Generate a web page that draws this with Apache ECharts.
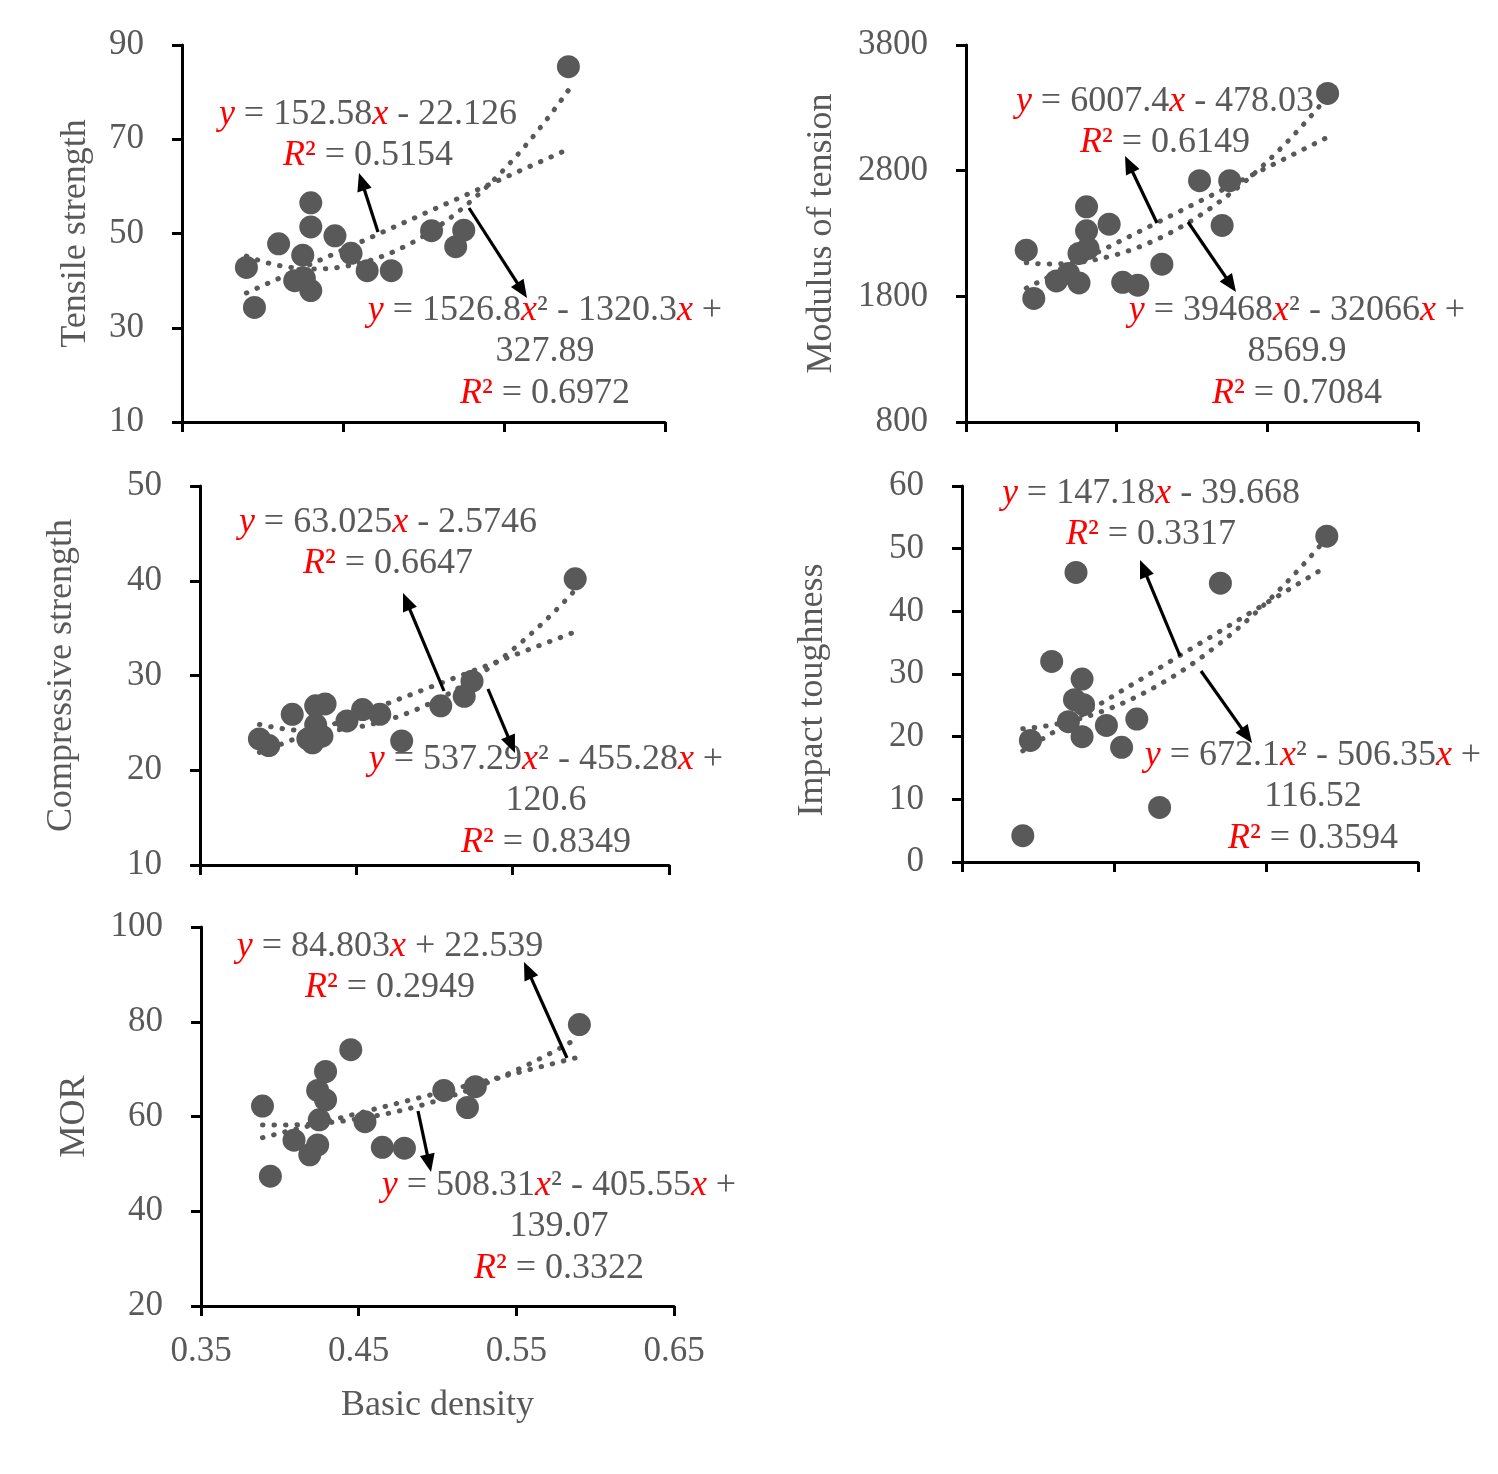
<!DOCTYPE html>
<html><head><meta charset="utf-8">
<script src="https://cdn.jsdelivr.net/npm/echarts@6/dist/echarts.min.js"></script>
<style>html,body{margin:0;padding:0;background:#fff}#c{width:1498px;height:1474px}</style>
</head><body><div id="c"></div>
<script>
// ---------- data ----------
const xTickValues = [0.35, 0.45, 0.55, 0.65];

const tensileDensity = [0.390,0.395,0.410,0.420,0.425,0.426,0.430,0.430,0.430,0.445,0.455,0.465,0.480,0.505,0.520,0.525,0.590];
const tensileValues  = [42.8,34.3,47.8,40.0,45.4,40.5,56.5,51.4,37.9,49.5,45.8,42.1,42.1,50.6,47.2,50.7,85.4];

const modulusDensity = [0.390,0.395,0.410,0.418,0.425,0.425,0.431,0.430,0.430,0.445,0.454,0.464,0.480,0.505,0.520,0.525,0.590];
const modulusValues  = [2167,1783,1923,1982,1907,2141,2181,2321,2512,2374,1912,1889,2056,2720,2364,2720,3415];

const compDensity = [0.388,0.394,0.409,0.419,0.422,0.424,0.424,0.428,0.430,0.444,0.454,0.465,0.479,0.504,0.519,0.524,0.590];
const compValues  = [23.3,22.6,25.9,23.3,22.9,24.8,26.8,23.6,27.0,25.2,26.4,25.9,23.1,26.8,27.8,29.4,40.2];

const impactDensity = [0.390,0.395,0.409,0.420,0.424,0.425,0.429,0.430,0.429,0.445,0.455,0.465,0.480,0.520,0.590];
const impactValues  = [4.2,19.4,32.0,22.4,25.9,46.2,29.2,25.1,20.0,21.8,18.3,22.8,8.7,44.5,52.0];

const morDensity = [0.389,0.394,0.409,0.419,0.424,0.424,0.425,0.429,0.429,0.445,0.454,0.465,0.479,0.504,0.519,0.524,0.590];
const morValues  = [62.2,47.4,55.0,51.9,54.0,65.5,59.3,63.5,69.5,74.1,58.9,53.5,53.3,65.5,61.9,66.3,79.4];

// trendline coefficients as printed on the chart
const tensileLinear = [152.58, -22.126];   const tensileQuad = [1526.8, -1320.3, 327.89];
const modulusLinear = [6007.4, -478.03];   const modulusQuad = [39468, -32066, 8569.9];
const compLinear    = [63.025, -2.5746];   const compQuad    = [537.29, -455.28, 120.6];
const impactLinear  = [147.18, -39.668];   const impactQuad  = [672.1, -506.35, 116.52];
const morLinear     = [84.803, 22.539];    const morQuad     = [508.31, -405.55, 139.07];

const yTensile = [10, 30, 50, 70, 90];
const yModulus = [800, 1800, 2800, 3800];
const yComp    = [10, 20, 30, 40, 50];
const yImpact  = [0, 10, 20, 30, 40, 50, 60];
const yMor     = [20, 40, 60, 80, 100];

const axisNames = ['Tensile strength', 'Modulus of tension', 'Compressive strength', 'Impact toughness', 'MOR'];
const xAxisName = 'Basic density';

const eqTensileLin  = ['{v|y} = 152.58{v|x} - 22.126', '{v|R}{r|²} = 0.5154'];
const eqTensileQuad = ['{v|y} = 1526.8{v|x}² - 1320.3{v|x} +', '327.89', '{v|R}{r|²} = 0.6972'];
const eqModulusLin  = ['{v|y} = 6007.4{v|x} - 478.03', '{v|R}{r|²} = 0.6149'];
const eqModulusQuad = ['{v|y} = 39468{v|x}² - 32066{v|x} +', '8569.9', '{v|R}{r|²} = 0.7084'];
const eqCompLin     = ['{v|y} = 63.025{v|x} - 2.5746', '{v|R}{r|²} = 0.6647'];
const eqCompQuad    = ['{v|y} = 537.29{v|x}² - 455.28{v|x} +', '120.6', '{v|R}{r|²} = 0.8349'];
const eqImpactLin   = ['{v|y} = 147.18{v|x} - 39.668', '{v|R}{r|²} = 0.3317'];
const eqImpactQuad  = ['{v|y} = 672.1{v|x}² - 506.35{v|x} +', '116.52', '{v|R}{r|²} = 0.3594'];
const eqMorLin      = ['{v|y} = 84.803{v|x} + 22.539', '{v|R}{r|²} = 0.2949'];
const eqMorQuad     = ['{v|y} = 508.31{v|x}² - 405.55{v|x} +', '139.07', '{v|R}{r|²} = 0.3322'];

// ---------- layout / style ----------
const FONT = '"Liberation Serif","Times New Roman",serif';
const GRAY = '#595959';
const panels = [
  {xs: tensileDensity, ys: tensileValues, lin: tensileLinear, quad: tensileQuad, ticks: yTensile,
   grid: {left:182, top:45, width:483, height:377}, gap: 88, pad: 0,
   eqLin: eqTensileLin, eqLinPos: [368,115], eqQuad: eqTensileQuad, eqQuadPos: [545,311],
   arrows: [[378,232,359,173],[469,208,527,298]]},
  {xs: modulusDensity, ys: modulusValues, lin: modulusLinear, quad: modulusQuad, ticks: yModulus,
   grid: {left:966, top:45, width:452, height:377}, gap: 126, pad: 0,
   eqLin: eqModulusLin, eqLinPos: [1165,102], eqQuad: eqModulusQuad, eqQuadPos: [1297,311],
   arrows: [[1157,223,1125,156],[1188,222,1236,292]]},
  {xs: compDensity, ys: compValues, lin: compLinear, quad: compQuad, ticks: yComp,
   grid: {left:200, top:486, width:469, height:379}, gap: 120, pad: 0,
   eqLin: eqCompLin, eqLinPos: [388,523], eqQuad: eqCompQuad, eqQuadPos: [546,760],
   arrows: [[444,691,403,593],[488,689,515,753]]},
  {xs: impactDensity, ys: impactValues, lin: impactLinear, quad: impactQuad, ticks: yImpact,
   grid: {left:962, top:486, width:456, height:376}, gap: 131, pad: 32,
   eqLin: eqImpactLin, eqLinPos: [1151,494], eqQuad: eqImpactQuad, eqQuadPos: [1313,756],
   arrows: [[1180,656,1140,560],[1201,671,1252,743]]},
  {xs: morDensity, ys: morValues, lin: morLinear, quad: morQuad, ticks: yMor,
   grid: {left:201, top:927, width:473, height:379}, gap: 108, pad: 0,
   eqLin: eqMorLin, eqLinPos: [390,947], eqQuad: eqMorQuad, eqQuadPos: [559,1186],
   arrows: [[567,1058,524,962],[418,1111,431,1172]]}
];

function trendData(xs, coef) {
  const lo = Math.min.apply(null, xs), hi = Math.max.apply(null, xs);
  const n = 40, out = [];
  for (let i = 0; i <= n; i++) {
    const x = lo + (hi - lo) * i / n;
    let y = 0;
    for (let k = 0; k < coef.length; k++) y += coef[k] * Math.pow(x, coef.length - 1 - k);
    out.push([x, y]);
  }
  return out;
}

const rich = {
  v: {fontStyle: 'italic', fill: '#FF0000', color: '#FF0000', fontSize: 36, fontFamily: FONT},
  r: {fill: '#FF0000', color: '#FF0000', fontSize: 36, fontFamily: FONT}
};

const grids = [], xAxes = [], yAxes = [], series = [], graphics = [];
panels.forEach((p, i) => {
  grids.push(Object.assign({containLabel: false}, p.grid));
  xAxes.push({
    type: 'value', gridIndex: i, min: xTickValues[0], max: xTickValues[xTickValues.length-1],
    interval: 0.1,
    axisLine: {show: true, onZero: false, lineStyle: {color: '#000', width: 3}},
    axisTick: {show: true, inside: false, length: 10, lineStyle: {color: '#000', width: 3}},
    splitLine: {show: false},
    axisLabel: {show: i === 4, margin: 28, color: GRAY, fontSize: 35, fontFamily: FONT,
                formatter: v => v.toFixed(2)},
    name: i === 4 ? xAxisName : '', nameLocation: 'middle', nameGap: 82,
    nameTextStyle: {color: GRAY, fontSize: 36, fontFamily: FONT}
  });
  yAxes.push({
    type: 'value', gridIndex: i, min: p.ticks[0], max: p.ticks[p.ticks.length-1],
    interval: p.ticks[1] - p.ticks[0],
    axisLine: {show: true, onZero: false, lineStyle: {color: '#000', width: 3}},
    axisTick: {show: true, inside: false, length: 10, lineStyle: {color: '#000', width: 3}},
    splitLine: {show: false},
    axisLabel: {margin: 38, color: GRAY, fontSize: 35, fontFamily: FONT, padding: [4, 0, 0, 0],
                formatter: v => String(v)},
    name: axisNames[i], nameLocation: 'middle', nameGap: p.gap, nameRotate: 90,
    nameTextStyle: {color: GRAY, fontSize: 36, fontFamily: FONT, padding: [0, p.pad, 0, 0]}
  });
  series.push({
    type: 'scatter', xAxisIndex: i, yAxisIndex: i, symbol: 'circle', symbolSize: 23,
    itemStyle: {color: GRAY, opacity: 1}, z: 2, silent: true,
    data: p.xs.map((x, k) => [x, p.ys[k]])
  });
  [p.lin, p.quad].forEach(coef => {
    series.push({
      type: 'line', xAxisIndex: i, yAxisIndex: i, showSymbol: false, smooth: false, z: 3, silent: true,
      lineStyle: {color: GRAY, width: 5, type: [0.5, 11], cap: 'round', opacity: 1},
      data: trendData(p.xs, coef)
    });
  });
  // equation labels
  [[p.eqLin, p.eqLinPos], [p.eqQuad, p.eqQuadPos]].forEach(([lines, pos]) => {
    const spacing = [0, 41, 83];
    lines.forEach((t, k) => {
      graphics.push({
        type: 'text', x: pos[0], y: pos[1] + spacing[k], z: 100,
        style: {text: t, rich: rich, fill: GRAY, fontSize: 36, fontFamily: FONT,
                align: 'center', verticalAlign: 'middle'}
      });
    });
  });
  // arrows
  p.arrows.forEach(a => {
    const [x1, y1, x2, y2] = a;
    const dx = x2 - x1, dy = y2 - y1, L = Math.hypot(dx, dy);
    const ux = dx / L, uy = dy / L, hl = 18, hw = 7.5;
    const bx = x2 - ux * hl, by = y2 - uy * hl;
    graphics.push({type: 'line', z: 101, shape: {x1: x1, y1: y1, x2: bx + ux * 2, y2: by + uy * 2},
                   style: {stroke: '#000', lineWidth: 3.2}});
    graphics.push({type: 'polygon', z: 101,
                   shape: {points: [[x2, y2], [bx - uy * hw, by + ux * hw], [bx + uy * hw, by - ux * hw]]},
                   style: {fill: '#000'}});
  });
});

const chart = echarts.init(document.getElementById('c'), null, {renderer: 'canvas'});
chart.setOption({
  backgroundColor: '#fff',
  animation: false,
  grid: grids, xAxis: xAxes, yAxis: yAxes, series: series, graphic: graphics
});
</script></body></html>
